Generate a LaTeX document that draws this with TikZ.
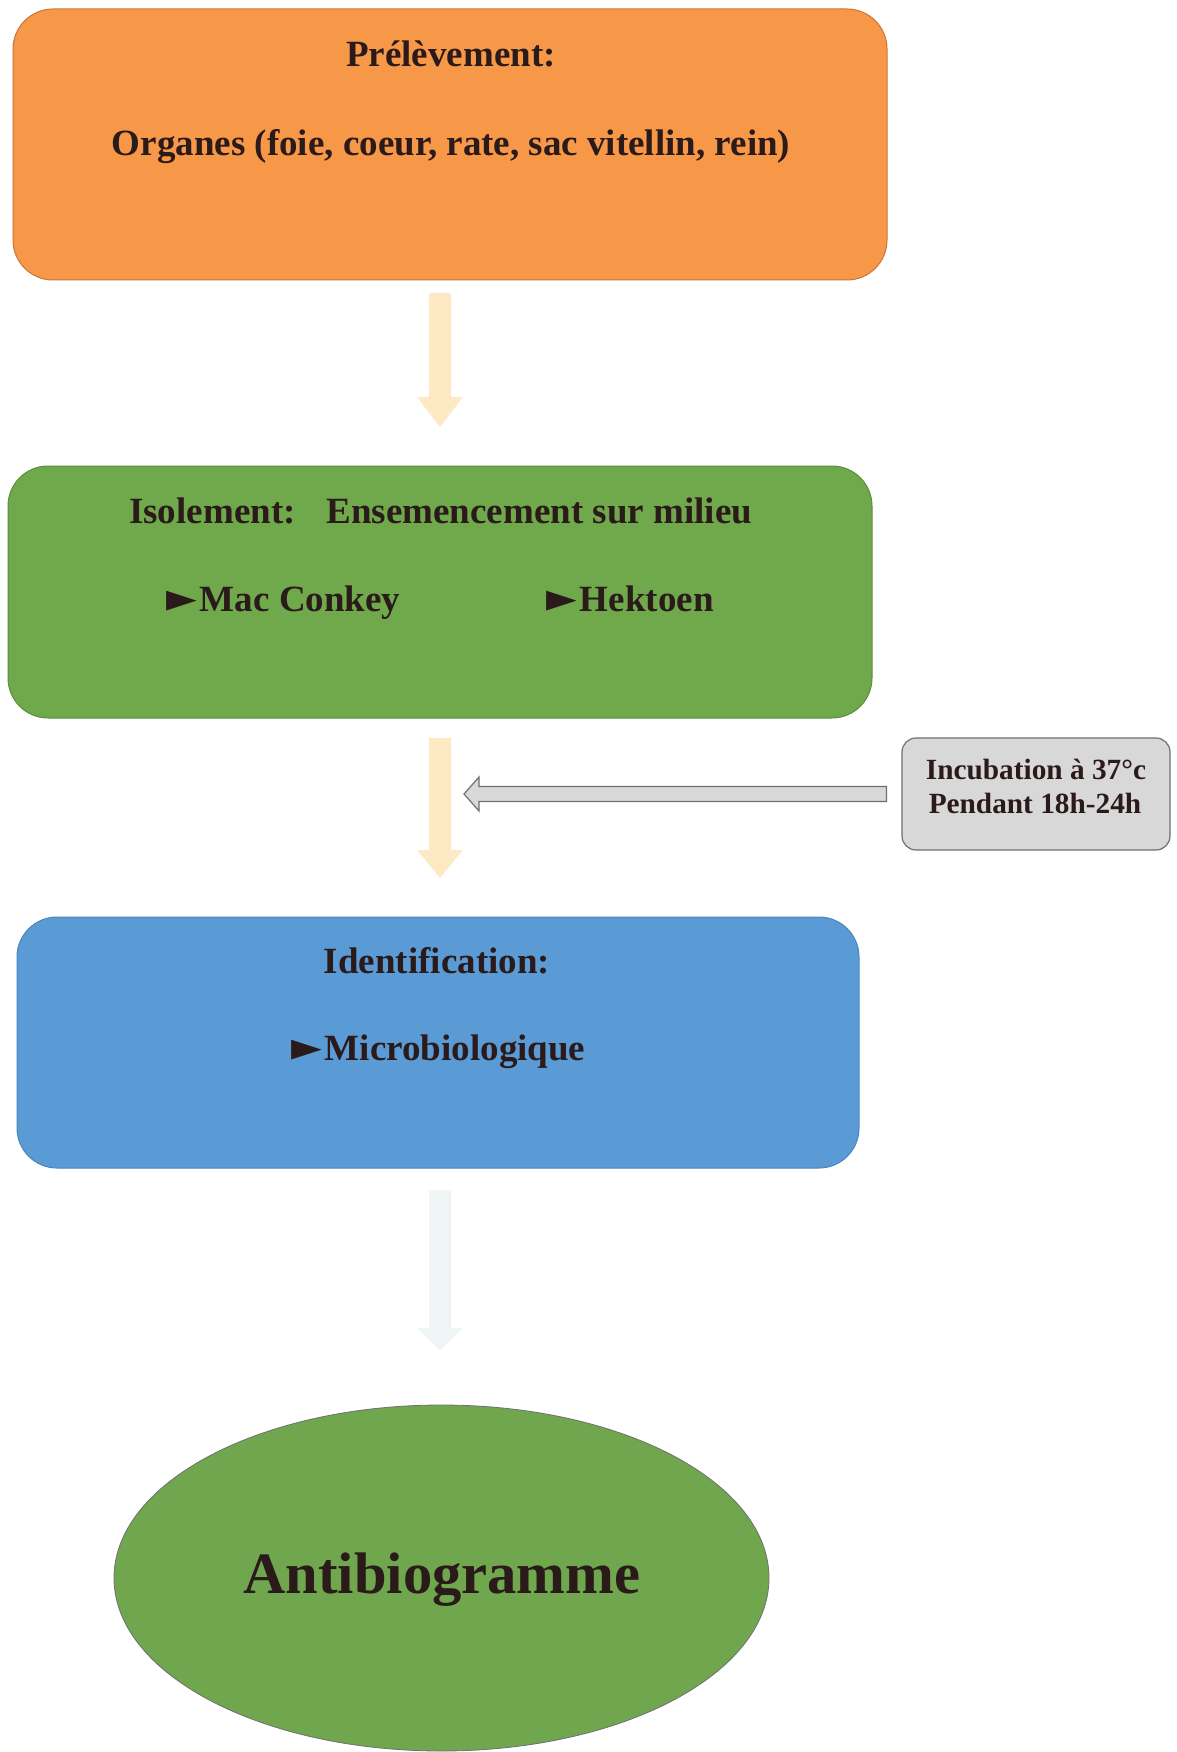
\documentclass[tikz,border=0pt]{standalone}
\usepackage{fontspec}
\setmainfont{Liberation Serif}
\newfontfamily\symfont{DejaVu Sans}
\usetikzlibrary{shapes.geometric,calc}
\definecolor{orangebox}{HTML}{F79848}
\definecolor{orangeline}{HTML}{C9763A}
\definecolor{greenbox}{HTML}{70A84C}
\definecolor{greenline}{HTML}{5C8F3E}
\definecolor{bluebox}{HTML}{5B9BD5}
\definecolor{blueline}{HTML}{4A86BE}
\definecolor{ellgreen}{HTML}{6FA64E}
\definecolor{yelarrow}{HTML}{FDEAC4}
\definecolor{palearrow}{HTML}{EEF5F4}
\definecolor{greybox}{HTML}{D8D8D8}
\definecolor{greyline}{HTML}{707070}
\definecolor{inkc}{HTML}{2A1A1A}
\tikzset{
  stepbox/.style={rectangle, rounded corners=40pt, line width=1pt, inner sep=0pt},
  txt/.style={inner sep=0pt, text=inkc, font=\fontsize{37}{44}\selectfont\bfseries},
  smalltxt/.style={inner sep=0pt, text=inkc, font=\fontsize{29.3}{34}\selectfont\bfseries},
  bigtxt/.style={inner sep=0pt, text=inkc, font=\fontsize{58.6}{66}\selectfont\bfseries},
}
\newcommand{\tri}{{\symfont\fontsize{40}{40}\selectfont ►}\hspace{3pt}}
% \blockdown{x}{ytop}{yhead}{ytip}{colour}
\newcommand{\blockdown}[5]{%
  \fill[#5] (#1-11,#2) -- (#1+11,#2) -- (#1+11,#3) -- (#1+23,#3) -- (#1,#4)
    -- (#1-23,#3) -- (#1-11,#3) -- cycle;}
\begin{document}
\begin{tikzpicture}[x=1pt,y=-1pt]
\useasboundingbox[fill=white] (0,0) rectangle (1176,1752);

% boxes
\node[stepbox, fill=orangebox, draw=orangeline, minimum width=874pt, minimum height=271pt] (prel) at (450,144.5) {};
\node[stepbox, fill=greenbox, draw=greenline, minimum width=864pt, minimum height=252pt] (isol) at (440,592) {};
\node[stepbox, fill=bluebox, draw=blueline, minimum width=842pt, minimum height=251pt] (ident) at (438,1042.5) {};
\node[ellipse, fill=ellgreen, draw=greyline, line width=0.8pt, minimum width=655pt, minimum height=346pt, inner sep=0pt] (anti) at (441.5,1578) {};
\node[rectangle, rounded corners=14pt, fill=greybox, draw=greyline, line width=1.2pt, minimum width=268pt, minimum height=112pt, inner sep=0pt] (incub) at (1036,794) {};

% block arrows (between the boxes)
\blockdown{440}{293}{397}{427}{yelarrow}
\blockdown{440}{738}{850}{878}{yelarrow}
\blockdown{440}{1190}{1328}{1350}{palearrow}
\coordinate (gtip) at (464,794);
\filldraw[fill=greybox, draw=greyline, line width=1.2pt, line join=miter]
  ($(incub.west)+(-15,-7.5)$) -- ($(gtip)+(15,-7.5)$) -- ($(gtip)+(15,-17)$)
  -- (gtip) -- ($(gtip)+(15,17)$) -- ($(gtip)+(15,7.5)$)
  -- ($(incub.west)+(-15,7.5)$) -- cycle;

% texts
\node[txt, anchor=base] (t1) at (451,67) {Prélèvement:};
\node[txt, anchor=base] (t2) at (451,156) {Organes (foie, coeur, rate, sac vitellin, rein)};
\node[txt, anchor=base west] (t3) at (129,523) {Isolement:\hspace{31pt}Ensemencement sur milieu};
\node[txt, anchor=base west] (t4) at (166,611) {\tri Mac Conkey};
\node[txt, anchor=base west] (t5) at (546,611) {\tri Hektoen};
\node[smalltxt, anchor=base] (t6) at (1036,779) {Incubation à 37°c};
\node[smalltxt, anchor=base] (t7) at (1035,813) {Pendant 18h-24h};
\node[txt, anchor=base] (t8) at (437,973) {Identification:};
\node[txt, anchor=base west] (t9) at (291,1060) {\tri Microbiologique};
\node[bigtxt, anchor=base] (t10) at (442,1593) {Antibiogramme};
\end{tikzpicture}
\end{document}
